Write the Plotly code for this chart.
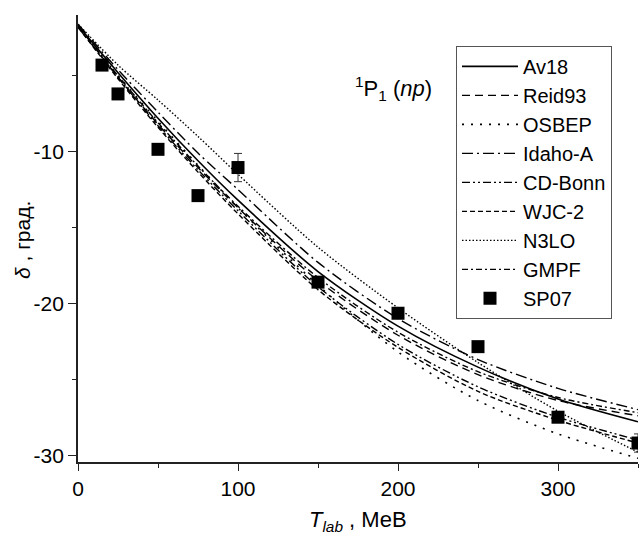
import plotly.graph_objects as go

# ---- data ----
T = [0, 25, 50, 75, 100, 150, 200, 250, 300, 350]

av18    = [-1.7, -4.8, -7.8, -10.6, -13.2, -17.9, -21.5, -24.2, -26.3, -27.8]
reid93  = [-1.7, -5.1, -8.2, -11.05, -13.7, -18.5, -22.1, -24.7, -26.4, -27.4]
osbep   = [-1.8, -5.0, -8.0, -10.9, -13.7, -18.8, -23.2, -26.4, -28.6, -30.2]
idahoA  = [-1.6, -4.6, -7.4, -10.1, -12.5, -17.3, -21.0, -23.7, -25.6, -27.0]
cdbonn  = [-1.8, -5.1, -8.3, -11.2, -13.9, -18.9, -22.7, -25.5, -27.5, -29.0]
wjc2    = [-1.8, -5.2, -8.4, -11.35, -14.1, -19.1, -22.9, -25.8, -27.7, -29.2]
n3lo    = [-1.6, -4.3, -6.6, -9.0, -11.5, -16.3, -20.3, -23.9, -27.1, -29.8]
gmpf    = [-1.7, -5.0, -8.1, -10.95, -13.6, -18.3, -21.9, -24.5, -26.2, -27.2]

sp07_T   = [15, 25, 50, 75, 100, 150, 200, 250, 300, 350]
sp07_d   = [-4.3, -6.2, -9.85, -12.9, -11.05, -18.6, -20.65, -22.85, -27.5, -29.2]
sp07_err = [0, 0, 0, 0, 0.93, 0, 0, 0, 0, 0.6]

x_tickvals = [0, 100, 200, 300]
x_ticktext = ["0", "100", "200", "300"]
y_tickvals = [-10, -20, -30]
y_ticktext = ["-10", "-20", "-30"]

FONT = "Arial, Liberation Sans, sans-serif"

series = [
    ("Av18", av18, "solid", 1.6),
    ("Reid93", reid93, "8px,5px", 1.4),
    ("OSBEP", osbep, "2px,7px", 1.6),
    ("Idaho-A", idahoA, "11px,4px,2px,4px", 1.4),
    ("CD-Bonn", cdbonn, "8px,3px,2px,3px,2px,3px", 1.4),
    ("WJC-2", wjc2, "5px,3px", 1.4),
    ("N3LO", n3lo, "1.5px,2px", 1.4),
    ("GMPF", gmpf, "6px,3px,2px,3px", 1.4),
]

fig = go.Figure()
for name, vals, dash, w in series:
    fig.add_trace(go.Scatter(
        x=T, y=vals, name=name, mode="lines",
        line=dict(color="black", width=w, dash=dash, shape="spline", smoothing=0.8),
    ))

fig.add_trace(go.Scatter(
    x=sp07_T, y=sp07_d, name="SP07", mode="markers",
    marker=dict(symbol="square", size=13, color="black"),
    error_y=dict(type="data", array=sp07_err, visible=True, color="#333", thickness=1, width=4),
))

L, R, TOP, BOT = 78, 1, 15, 78
fig.update_layout(
    width=639, height=540,
    margin=dict(l=L, r=R, t=TOP, b=BOT),
    paper_bgcolor="white", plot_bgcolor="white",
    font=dict(family=FONT, size=20, color="black"),
    showlegend=True,
    legend=dict(
        x=0.675, y=0.931, xanchor="left", yanchor="top",
        bgcolor="white", bordercolor="#555", borderwidth=1,
        font=dict(family=FONT, size=20, color="black"),
        itemwidth=56, tracegroupgap=0,
    ),
    xaxis=dict(
        range=[0, 350], showgrid=False, zeroline=False,
        showline=True, linecolor="#222", linewidth=1.8,
        ticks="outside", ticklen=7, tickwidth=1.4, tickcolor="#222",
        tickvals=x_tickvals, ticktext=x_ticktext,
        minor=dict(dtick=50, ticks="outside", ticklen=4, tickwidth=1.4, tickcolor="#222"),
        tickfont=dict(family=FONT, size=21),
    ),
    yaxis=dict(
        range=[-30.45, -1.0], showgrid=False, zeroline=False,
        showline=True, linecolor="#222", linewidth=1.8,
        ticks="outside", ticklen=8, tickwidth=1.4, tickcolor="#222",
        tickvals=y_tickvals, ticktext=y_ticktext,
        minor=dict(dtick=5, tick0=0, ticks="outside", ticklen=4, tickwidth=1.4, tickcolor="#222"),
        tickfont=dict(family=FONT, size=21),
    ),
    annotations=[
        dict(text="<sup>1</sup>P<sub>1</sub> (<i>np</i>)", xref="paper", yref="paper",
             x=(353 - L) / 560, y=(462 - 88) / 447, xanchor="left", yanchor="middle",
             showarrow=False, font=dict(family=FONT, size=22)),
        dict(text="<i>T</i><sub><i>lab</i></sub> , MeB", xref="paper", yref="paper",
             x=(358 - L) / 560, y=(462 - 521) / 447, xanchor="center", yanchor="middle",
             showarrow=False, font=dict(family=FONT, size=22)),
        dict(text="<i>δ</i> , град.", xref="paper", yref="paper",
             x=(22 - L) / 560, y=(462 - 240) / 447, xanchor="center", yanchor="middle",
             textangle=-90, showarrow=False, font=dict(family=FONT, size=21)),
    ],
)

fig.write_html("out.html")
